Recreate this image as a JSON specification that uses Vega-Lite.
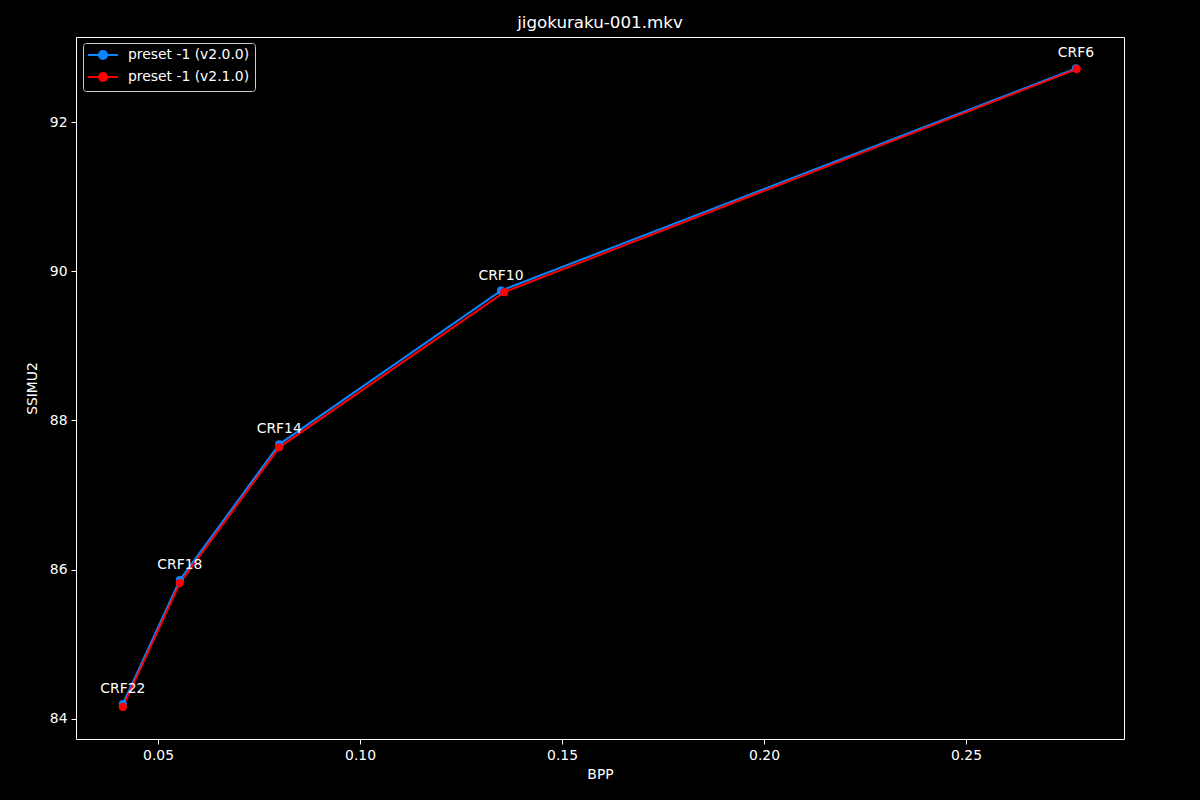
{
  "$schema": "https://vega.github.io/schema/vega-lite/v6.json",
  "width": 1048,
  "height": 702,
  "autosize": {"type": "none"},
  "padding": {"left": 76, "top": 37, "right": 76, "bottom": 61},
  "background": "black",
  "title": {"text": "jigokuraku-001.mkv", "color": "white", "font": "DejaVu Sans", "fontSize": 16.7, "fontWeight": "normal", "offset": 5, "anchor": "middle"},
  "config": {
    "view": {"stroke": "white", "strokeWidth": 1},
    "font": "DejaVu Sans",
    "axis": {"domain": false, "grid": false, "tickColor": "white", "labelColor": "white", "titleColor": "white", "labelFont": "DejaVu Sans", "titleFont": "DejaVu Sans", "labelFontSize": 13.9, "titleFontSize": 13.9, "titleFontWeight": "normal", "tickSize": 5, "labelPadding": 4, "tickWidth": 1}
  },
  "data": {"values": [
    {"series": "preset -1 (v2.0.0)", "bpp": 0.0413, "ssimu2": 84.20, "crf": "CRF22"},
    {"series": "preset -1 (v2.0.0)", "bpp": 0.0554, "ssimu2": 85.86, "crf": "CRF18"},
    {"series": "preset -1 (v2.0.0)", "bpp": 0.0800, "ssimu2": 87.68, "crf": "CRF14"},
    {"series": "preset -1 (v2.0.0)", "bpp": 0.1349, "ssimu2": 89.74, "crf": "CRF10"},
    {"series": "preset -1 (v2.0.0)", "bpp": 0.2772, "ssimu2": 92.72, "crf": "CRF6"},
    {"series": "preset -1 (v2.1.0)", "bpp": 0.0413, "ssimu2": 84.16, "crf": ""},
    {"series": "preset -1 (v2.1.0)", "bpp": 0.0554, "ssimu2": 85.82, "crf": ""},
    {"series": "preset -1 (v2.1.0)", "bpp": 0.0800, "ssimu2": 87.64, "crf": ""},
    {"series": "preset -1 (v2.1.0)", "bpp": 0.1357, "ssimu2": 89.72, "crf": ""},
    {"series": "preset -1 (v2.1.0)", "bpp": 0.2774, "ssimu2": 92.71, "crf": ""}
  ]},
  "encoding": {
    "x": {"field": "bpp", "type": "quantitative", "scale": {"domain": [0.0297, 0.2891], "nice": false, "zero": false}, "axis": {"values": [0.05, 0.1, 0.15, 0.2, 0.25], "format": ".2f", "title": "BPP", "titlePadding": 6}},
    "y": {"field": "ssimu2", "type": "quantitative", "scale": {"domain": [83.73, 93.14], "nice": false, "zero": false}, "axis": {"values": [84, 86, 88, 90, 92], "title": "SSIMU2", "titlePadding": 10}}
  },
  "layer": [
    {
      "mark": {"type": "line", "strokeWidth": 2},
      "encoding": {
        "color": {"field": "series", "type": "nominal", "scale": {"domain": ["preset -1 (v2.0.0)", "preset -1 (v2.1.0)"], "range": ["#0a84ff", "#ff0000"]},
          "legend": {"title": null, "orient": "none", "legendX": 7, "legendY": 6, "fillColor": "black", "strokeColor": "#cccccc", "cornerRadius": 3, "padding": 5, "labelColor": "white", "labelFont": "DejaVu Sans", "labelFontSize": 13.9, "symbolType": "M-2.5,0H2.5M-0.67,0A0.67,0.67 0 1,0 0.67,0A0.67,0.67 0 1,0 -0.67,0", "symbolSize": 144, "symbolStrokeWidth": 2, "symbolOffset": 8, "rowPadding": 4, "labelOffset": 18}}
      }
    },
    {
      "mark": {"type": "point", "filled": true, "opacity": 1, "size": 66},
      "encoding": {
        "color": {"field": "series", "type": "nominal", "legend": null}
      }
    },
    {
      "transform": [{"filter": "datum.crf != ''"}],
      "mark": {"type": "text", "color": "white", "fontSize": 13.9, "font": "DejaVu Sans", "align": "center", "baseline": "alphabetic", "dy": -11},
      "encoding": {"text": {"field": "crf"}}
    }
  ]
}
